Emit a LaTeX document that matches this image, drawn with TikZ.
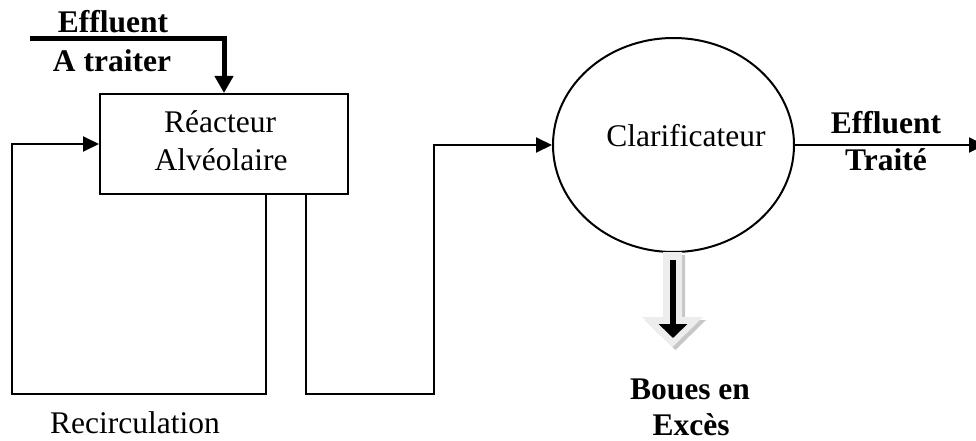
\documentclass[tikz,border=0pt]{standalone}
\usepackage{fontspec}
\setmainfont{Liberation Serif}
\usetikzlibrary{arrows.meta,shapes.geometric}
\begin{document}
\begin{tikzpicture}[x=1pt,y=-1pt,
  txt/.style={anchor=base,inner sep=0pt,font=\fontsize{31.5}{38}\selectfont},
  btxt/.style={txt,font=\fontsize{31.5}{38}\selectfont\bfseries},
  conn/.style={line width=2pt,-{Triangle[length=16pt,width=15pt]}},
  thickconn/.style={line width=5pt,-{Triangle[length=17pt,width=18pt]}},
  plain/.style={line width=2pt}]
\useasboundingbox (0,0) rectangle (976,441);
% nodes
\node[draw,line width=2pt,minimum width=248pt,minimum height=100pt,inner sep=0pt] (reac) at (224,144) {};
\node[txt] (reacA) at (220,132) {Réacteur};
\node[txt] (reacB) at (221,170) {Alvéolaire};
\node[draw,line width=2pt,ellipse,minimum width=241pt,minimum height=214pt,inner sep=0pt] (clar) at (673.5,145) {};
\node[txt] (clarT) at (686,146) {Clarificateur};
\node[btxt] (inA) at (113,33) {Effluent};
\node[btxt] (inB) at (112,72) {A traiter};
\node[btxt] (outA) at (886,133) {Effluent};
\node[btxt] (outB) at (886,170) {Traité};
\node[btxt] (bA) at (690,399) {Boues en};
\node[btxt] (bB) at (691,435) {Excès};
\node[txt] (rec) at (135,433) {Recirculation};
% coordinates
\coordinate (inStart) at (30,39);
\coordinate (recL) at (12,394);
\coordinate (outL) at (434,394);
\coordinate (outEnd) at (985,145);
\coordinate (sludgeA) at (673,260);
\coordinate (sludgeB) at (673,338);
% connectors
\draw[thickconn] (inStart) -| (reac.north);
\draw[conn] ([xshift=42pt]reac.south) |- (recL) |- (reac.west);
\draw[conn] ([xshift=82pt]reac.south) |- (outL) |- (clar.west);
\draw[conn] (clar.east) -- (outEnd);
% grey block arrow (shadow + body)
\fill[black!22] (666,255) -- (685,255) -- (685,320) -- (706,320) -- (675.5,350) -- (645,320) -- (666,320) -- cycle;
\fill[black!7] (663,252) -- (682,252) -- (682,317) -- (703,317) -- (672.5,347) -- (642,317) -- (663,317) -- cycle;
\draw[line width=6pt,-{Triangle[length=14pt,width=28pt]}] (sludgeA) -- (sludgeB);
\end{tikzpicture}
\end{document}
